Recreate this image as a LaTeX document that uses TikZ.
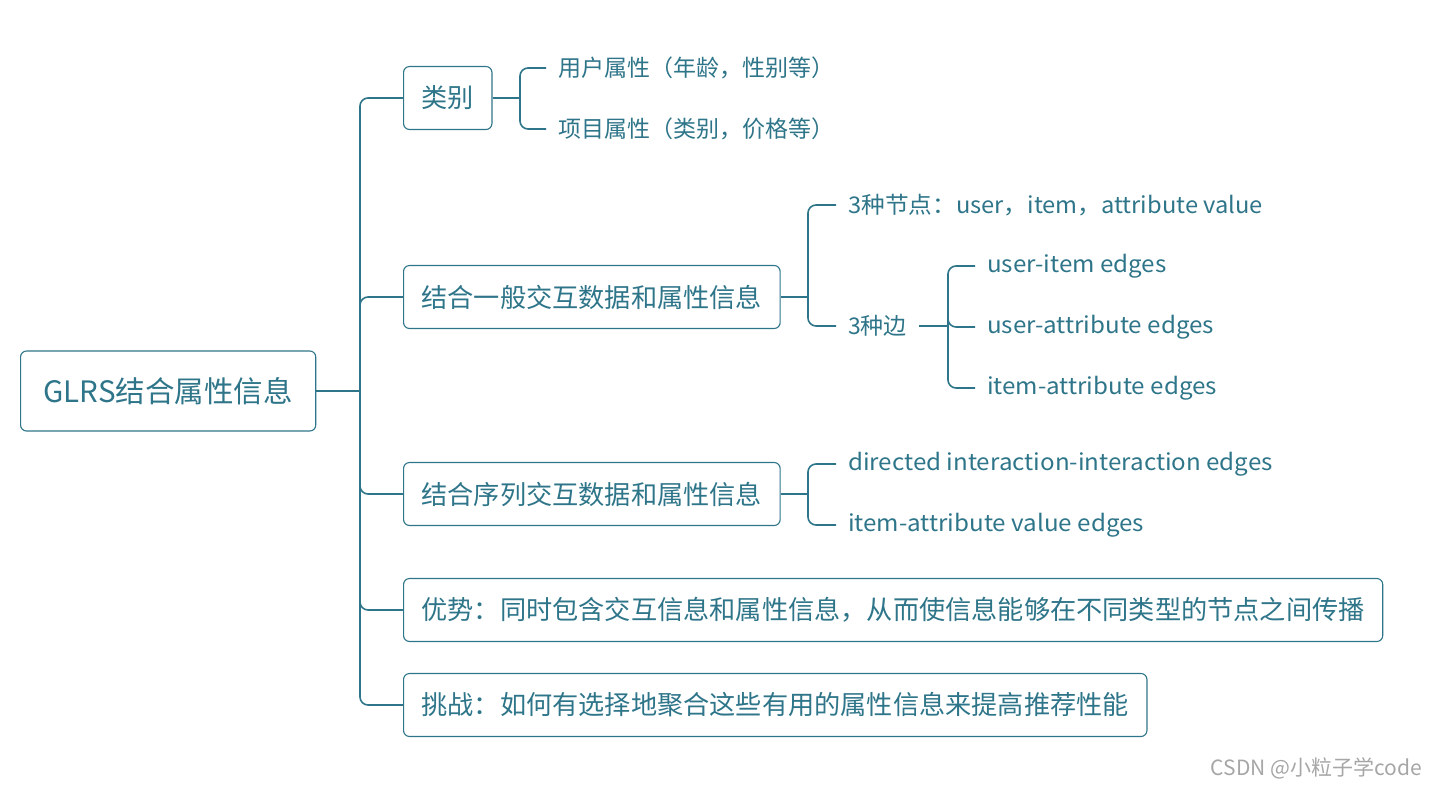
\documentclass[tikz,border=0pt]{standalone}
\usepackage{fontspec}
\setmainfont{Noto Sans CJK SC}
\newfontfamily\widef[FakeStretch=1.05]{Noto Sans CJK SC}
\newfontfamily\midf[FakeStretch=1.03]{Noto Sans CJK SC}
\begin{document}
\begin{tikzpicture}[x=1pt,y=-1pt,
  box/.style={draw=tealc,text=tealc,line width=1.1pt,rounded corners=6pt,inner xsep=18pt,minimum height=63pt,anchor=west,font=\fontsize{26.2}{31}\selectfont},
  rootbox/.style={box,inner xsep=23pt,minimum height=80pt,font=\fontsize{29.5}{34}\selectfont},
  leaf/.style={text=tealc,inner xsep=12pt,inner ysep=0pt,anchor=west,font=\fontsize{23}{28}\selectfont},
  wleaf/.style={leaf,font=\widef\fontsize{23}{28}\selectfont},
  mleaf/.style={leaf,font=\midf\fontsize{23}{28}\selectfont},
  conn/.style={draw=tealc,line width=1.6pt,rounded corners=8pt},
]
\definecolor{tealc}{RGB}{46,117,137}
\useasboundingbox (0,0) rectangle (1438,788);

\node[rootbox] (root) at (20,391) {GLRS结合属性信息};
\coordinate (trunk) at (360,391);

\node[box] (b1) at (403,98) {类别};
\node[box] (b2) at (403,297) {结合一般交互数据和属性信息};
\node[box] (b3) at (403,494) {结合序列交互数据和属性信息};
\node[box] (b4) at (403,610) {优势：同时包含交互信息和属性信息，从而使信息能够在不同类型的节点之间传播};
\node[box] (b5) at (403,705) {挑战：如何有选择地聚合这些有用的属性信息来提高推荐性能};

\draw[conn] (root.east) -- (trunk);
\foreach \b in {b1,b2,b3,b4,b5} \draw[conn] (trunk) |- (\b.west);

% children of b1
\coordinate (k1) at (520,98);
\node[leaf] (c11) at (546,68) {用户属性（年龄，性别等）};
\node[leaf] (c12) at (546,129) {项目属性（类别，价格等）};
\draw[conn] (b1.east) -- (k1);
\draw[conn] (k1) |- (c11.west);
\draw[conn] (k1) |- (c12.west);

% children of b2
\coordinate (k2) at (808,297);
\node[mleaf] (c21) at (836,205) {3种节点：user，item，attribute value};
\node[leaf] (c22) at (836,326) {3种边};
\draw[conn] (b2.east) -- (k2);
\draw[conn] (k2) |- (c21.west);
\draw[conn] (k2) |- (c22.west);

\coordinate (k3) at (948,326);
\node[wleaf] (c31) at (975,266) {user-item edges};
\node[wleaf] (c32) at (975,327) {user-attribute edges};
\node[wleaf] (c33) at (975,388) {item-attribute edges};
\draw[conn] (c22.east) -- (k3);
\draw[conn] (k3) |- (c31.west);
\draw[conn] (k3) |- (c32.west);
\draw[conn] (k3) |- (c33.west);

% children of b3
\coordinate (k4) at (808,494);
\node[wleaf] (c41) at (836,464) {directed interaction-interaction edges};
\node[wleaf] (c42) at (836,525) {item-attribute value edges};
\draw[conn] (b3.east) -- (k4);
\draw[conn] (k4) |- (c41.west);
\draw[conn] (k4) |- (c42.west);

\node[text=black!35,anchor=east,inner sep=0pt,font=\fontsize{21}{25}\selectfont] (wm) at (1422,768) {CSDN @小粒子学code};
\end{tikzpicture}
\end{document}
